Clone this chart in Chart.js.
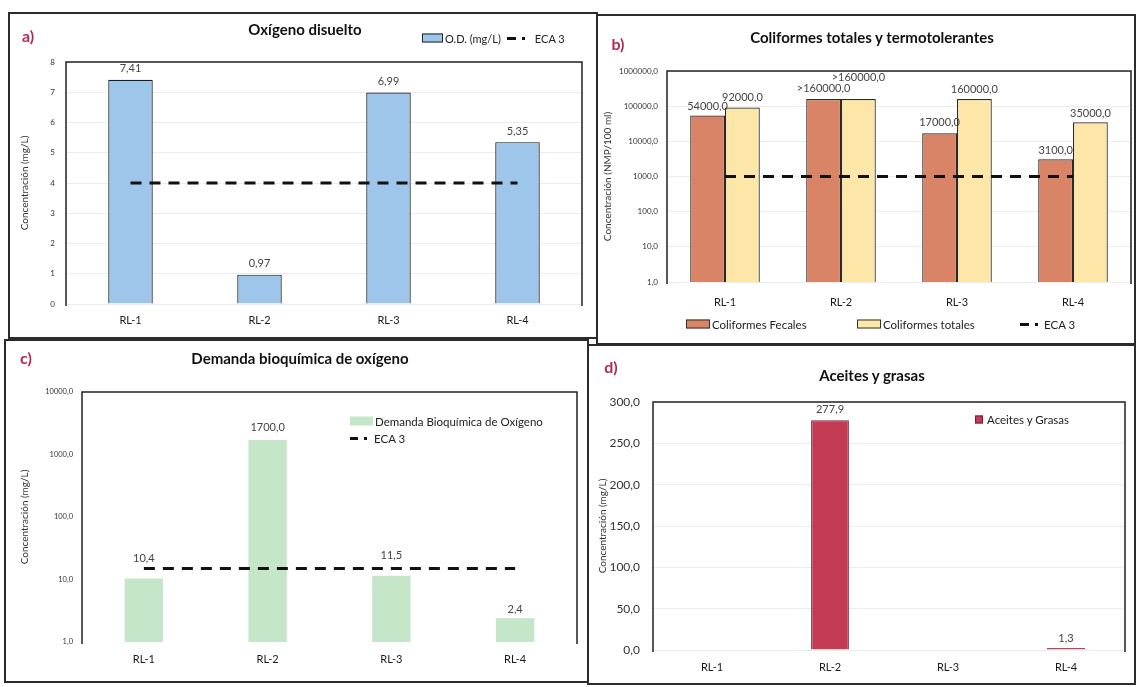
<!DOCTYPE html>
<html><head><meta charset="utf-8">
<script src="https://cdn.jsdelivr.net/npm/chart.js@4.4.1/dist/chart.umd.min.js"></script>
<style>
html,body{margin:0;padding:0;background:#fff;}
body{width:1136px;height:687px;position:relative;overflow:hidden;font-family:Lato,'Open Sans',sans-serif;color:#222;}
.panel{position:absolute;box-sizing:border-box;border:2px solid #2b2b2b;}
canvas{position:absolute;}
.tag{position:absolute;font-weight:bold;font-size:16px;color:#b02a58;transform:translate(-50%,-50%);}
.title{position:absolute;font-weight:bold;font-size:15px;color:#111;transform:translate(-50%,-50%);white-space:nowrap;}
.leg{position:absolute;font-size:11.5px;color:#222;display:flex;align-items:center;white-space:nowrap;transform:translateY(-50%);}
.sw{display:inline-block;box-sizing:border-box;margin-right:2px;}
</style>
</head><body>
<div class="panel" style="left:8px;top:12px;width:590px;height:327px;"></div>
<div class="panel" style="left:596px;top:14px;width:540px;height:331px;"></div>
<div class="panel" style="left:4px;top:339px;width:585px;height:344px;"></div>
<div class="panel" style="left:587px;top:344px;width:549px;height:341px;"></div>

<canvas id="cA" width="589" height="325" style="left:8px;top:12px;width:589px;height:325px;"></canvas>
<canvas id="cB" width="539" height="328" style="left:597px;top:15px;width:539px;height:328px;"></canvas>
<canvas id="cC" width="585" height="340" style="left:4px;top:340px;width:585px;height:340px;"></canvas>
<canvas id="cD" width="547" height="338" style="left:589px;top:345px;width:547px;height:338px;"></canvas>

<div class="tag" style="left:28px;top:35px;">a)</div>
<div class="tag" style="left:618px;top:43px;">b)</div>
<div class="tag" style="left:26px;top:357px;">c)</div>
<div class="tag" style="left:611px;top:366px;">d)</div>

<div class="title" style="left:305px;top:29px;">Oxígeno disuelto</div>
<div class="title" style="left:872px;top:37px;">Coliformes totales y termotolerantes</div>
<div class="title" style="left:300px;top:358px;">Demanda bioquímica de oxígeno</div>
<div class="title" style="left:872px;top:375px;">Aceites y grasas</div>

<!-- legends -->
<div class="leg" style="left:422px;top:38px;font-size:11px;">
  <span class="sw" style="width:21px;height:9px;background:#9DC6EA;border:1px solid #222;"></span>O.D. (mg/L)
  <svg width="24" height="6" style="margin:0 4px 0 6px"><line x1="0" y1="3" x2="24" y2="3" stroke="#111" stroke-width="3" stroke-dasharray="9 6 3 6"/></svg>ECA 3
</div>
<div class="leg" style="left:686px;top:324px;">
  <span class="sw" style="width:24px;height:9px;background:#D98466;border:1px solid #333;"></span>Coliformes Fecales
</div>
<div class="leg" style="left:857px;top:324px;">
  <span class="sw" style="width:24px;height:9px;background:#FCE6A8;border:1px solid #333;"></span>Coliformes totales
</div>
<div class="leg" style="left:1020px;top:324px;">
  <svg width="20" height="6" style="margin-right:4px"><line x1="0" y1="3" x2="20" y2="3" stroke="#111" stroke-width="3" stroke-dasharray="9 6 3 6"/></svg>ECA 3
</div>
<div class="leg" style="left:350px;top:421px;">
  <span class="sw" style="width:23px;height:9px;background:#C6E6C9;"></span>Demanda Bioquímica de Oxígeno
</div>
<div class="leg" style="left:350px;top:438px;">
  <svg width="20" height="6" style="margin-right:4px"><line x1="0" y1="3" x2="20" y2="3" stroke="#111" stroke-width="3" stroke-dasharray="8 6 3 6"/></svg>ECA 3
</div>
<div class="leg" style="left:975px;top:419px;">
  <span class="sw" style="width:8px;height:8px;background:#C43B55;border:1px solid #7a1c30;margin-right:4px;"></span>Aceites y Grasas
</div>

<script>
// ---------- DATA ----------
const categories = ['RL-1', 'RL-2', 'RL-3', 'RL-4'];

// a) Oxígeno disuelto
const odValues = [7.41, 0.97, 6.99, 5.35];
const odLabels = ['7,41', '0,97', '6,99', '5,35'];
const odEca = [4, 4, 4, 4];
const odTickValues = [0, 1, 2, 3, 4, 5, 6, 7, 8];
const odTickLabels = ['0', '1', '2', '3', '4', '5', '6', '7', '8'];

// b) Coliformes
const colFecales = [54000, 160000, 17000, 3100];
const colTotales = [92000, 160000, 160000, 35000];
const colFecalesLabels = ['54000,0', '>160000,0', '17000,0', '3100,0'];
const colTotalesLabels = ['92000,0', '>160000,0', '160000,0', '35000,0'];
const colEca = [1000, 1000, 1000, 1000];
const colTickValues = [1, 10, 100, 1000, 10000, 100000, 1000000];
const colTickLabels = ['1,0', '10,0', '100,0', '1000,0', '10000,0', '100000,0', '1000000,0'];

// c) DBO
const dboValues = [10.4, 1700, 11.5, 2.4];
const dboLabels = ['10,4', '1700,0', '11,5', '2,4'];
const dboEca = [15, 15, 15, 15];
const dboTickValues = [1, 10, 100, 1000, 10000];
const dboTickLabels = ['1,0', '10,0', '100,0', '1000,0', '10000,0'];

// d) Aceites y grasas
const agValues = [null, 277.9, null, 1.3];
const agLabels = ['', '277,9', '', '1,3'];
const agTickValues = [0, 50, 100, 150, 200, 250, 300];
const agTickLabels = ['0,0', '50,0', '100,0', '150,0', '200,0', '250,0', '300,0'];

// ---------- PLUGINS ----------
const FONT = 'Lato, "Open Sans", sans-serif';

const plotFrame = {
  id: 'plotFrame',
  beforeDatasetsDraw(chart, args, opts) {
    const {ctx, chartArea: a} = chart;
    ctx.save();
    ctx.strokeStyle = '#222';
    ctx.lineWidth = 1.5;
    ctx.beginPath();
    ctx.moveTo(a.left, a.bottom + 2);
    ctx.lineTo(a.left, a.top);
    ctx.lineTo(a.right, a.top);
    ctx.lineTo(a.right, a.bottom + 2);
    ctx.stroke();
    ctx.restore();
  }
};

const valueLabels = {
  id: 'valueLabels',
  afterDatasetsDraw(chart, args, opts) {
    if (!opts || !opts.sets) return;
    const ctx = chart.ctx;
    opts.sets.forEach(s => {
      const meta = chart.getDatasetMeta(s.dataset);
      meta.data.forEach((el, i) => {
        const t = s.texts[i];
        if (!t) return;
        const off = (s.offsets && s.offsets[i] != null) ? s.offsets[i] : 11;
        ctx.save();
        ctx.font = (opts.size || 11) + 'px ' + FONT;
        ctx.fillStyle = opts.color || '#333';
        ctx.textAlign = 'center';
        ctx.textBaseline = 'middle';
        ctx.fillText(t, el.x, el.y - off);
        ctx.restore();
      });
    });
  }
};
Chart.register(plotFrame, valueLabels);

function ecaLine(data) {
  return { type: 'line', label: 'ECA 3', data: data, borderColor: '#111', borderWidth: 3.2,
           borderDash: [11, 8], pointRadius: 0, fill: false, order: 0, tension: 0 };
}

function xScale(height, pad) {
  return {
    grid: {display: false, drawTicks: false}, border: {display: false},
    ticks: {padding: pad, color: '#1a1a1a', font: {size: 11, family: FONT}},
    afterFit: s => { s.height = height; }
  };
}

function yScale(o) {
  return Object.assign({
    grid: {color: 'rgba(0,0,0,0.07)', drawTicks: false},
    border: {display: false},
    ticks: {padding: o.tickPad, color: '#333', font: {size: o.tickSize, family: FONT},
            callback: (v, i) => o.tickLabels[i]},
    afterBuildTicks: s => { s.ticks = o.tickValues.map(v => ({value: v})); },
    title: {display: true, text: o.title, color: '#333', font: {size: 10, family: FONT},
            padding: {top: o.titlePad, bottom: 0}},
    afterFit: s => { s.width = o.width; }
  }, o.extra);
}

// ---------- CHART A ----------
new Chart(document.getElementById('cA'), {
  type: 'bar',
  data: {
    labels: categories,
    datasets: [
      ecaLine(odEca),
      { type: 'bar', label: 'O.D. (mg/L)', data: odValues, backgroundColor: '#9DC6EA',
        borderColor: '#1a1a1a', borderWidth: 1.2, barPercentage: 0.345, categoryPercentage: 1, order: 1 }
    ]
  },
  options: {
    responsive: false, animation: false,
    layout: {padding: {top: 50, right: 15, bottom: 0, left: 0}},
    plugins: {legend: {display: false}, tooltip: {enabled: false},
      valueLabels: {size: 11, color: '#444', sets: [{dataset: 1, texts: odLabels, offsets: [11, 11, 11, 11]}]}},
    scales: {
      x: xScale(33, 10),
      y: yScale({tickValues: odTickValues, tickLabels: odTickLabels, tickPad: 11, tickSize: 8,
                 title: 'Concentración (mg/L)', titlePad: 11, width: 58, extra: {min: 0, max: 8}})
    }
  }
});

// ---------- CHART B ----------
new Chart(document.getElementById('cB'), {
  type: 'bar',
  data: {
    labels: categories,
    datasets: [
      ecaLine(colEca),
      { type: 'bar', label: 'Coliformes Fecales', data: colFecales, backgroundColor: '#D98466',
        borderColor: '#2a2a2a', borderWidth: 1.2, barPercentage: 1, categoryPercentage: 0.6, order: 1 },
      { type: 'bar', label: 'Coliformes totales', data: colTotales, backgroundColor: '#FCE6A8',
        borderColor: '#2a2a2a', borderWidth: 1.2, barPercentage: 1, categoryPercentage: 0.6, order: 1 }
    ]
  },
  options: {
    responsive: false, animation: false,
    layout: {padding: {top: 56, right: 5, bottom: 0, left: 0}},
    plugins: {legend: {display: false}, tooltip: {enabled: false},
      valueLabels: {size: 11, color: '#444', sets: [
        {dataset: 1, texts: colFecalesLabels, offsets: [9, 11, 11, 9]},
        {dataset: 2, texts: colTotalesLabels, offsets: [10, 22, 10, 9]}
      ]}},
    scales: {
      x: xScale(61, 14),
      y: yScale({tickValues: colTickValues, tickLabels: colTickLabels, tickPad: 9, tickSize: 8,
                 title: 'Concentración (NMP/100 ml)', titlePad: 5, width: 70,
                 extra: {type: 'logarithmic', min: 1, max: 1000000}})
    }
  }
});

// ---------- CHART C ----------
new Chart(document.getElementById('cC'), {
  type: 'bar',
  data: {
    labels: categories,
    datasets: [
      ecaLine(dboEca),
      { type: 'bar', label: 'Demanda Bioquímica de Oxígeno', data: dboValues, backgroundColor: '#C6E6C9',
        borderWidth: 0, barPercentage: 0.31, categoryPercentage: 1, order: 1 }
    ]
  },
  options: {
    responsive: false, animation: false,
    layout: {padding: {top: 52, right: 12, bottom: 0, left: 0}},
    plugins: {legend: {display: false}, tooltip: {enabled: false},
      valueLabels: {size: 11, color: '#444', sets: [{dataset: 1, texts: dboLabels, offsets: [20, 13, 20, 9]}]}},
    scales: {
      x: xScale(38, 11),
      y: yScale({tickValues: dboTickValues, tickLabels: dboTickLabels, tickPad: 9, tickSize: 7.5,
                 title: 'Concentración (mg/L)', titlePad: 15, width: 78,
                 extra: {type: 'logarithmic', min: 1, max: 10000, grid: {display: false, drawTicks: false}}})
    }
  }
});

// ---------- CHART D ----------
new Chart(document.getElementById('cD'), {
  type: 'bar',
  data: {
    labels: categories,
    datasets: [
      { type: 'bar', label: 'Aceites y Grasas', data: agValues, backgroundColor: '#C43B55',
        borderColor: '#7a1f33', borderWidth: 1.2, minBarLength: 2,
        barPercentage: 0.32, categoryPercentage: 1, order: 1 }
    ]
  },
  options: {
    responsive: false, animation: false,
    layout: {padding: {top: 57, right: 11, bottom: 0, left: 0}},
    plugins: {legend: {display: false}, tooltip: {enabled: false},
      valueLabels: {size: 11, color: '#444', sets: [{dataset: 0, texts: agLabels, offsets: [11, 11, 11, 10]}]}},
    scales: {
      x: xScale(33, 11),
      y: yScale({tickValues: agTickValues, tickLabels: agTickLabels, tickPad: 13, tickSize: 12,
                 title: 'Concentración (mg/L)', titlePad: 8, width: 64, extra: {min: 0, max: 300}})
    }
  }
});
</script>
</body></html>
